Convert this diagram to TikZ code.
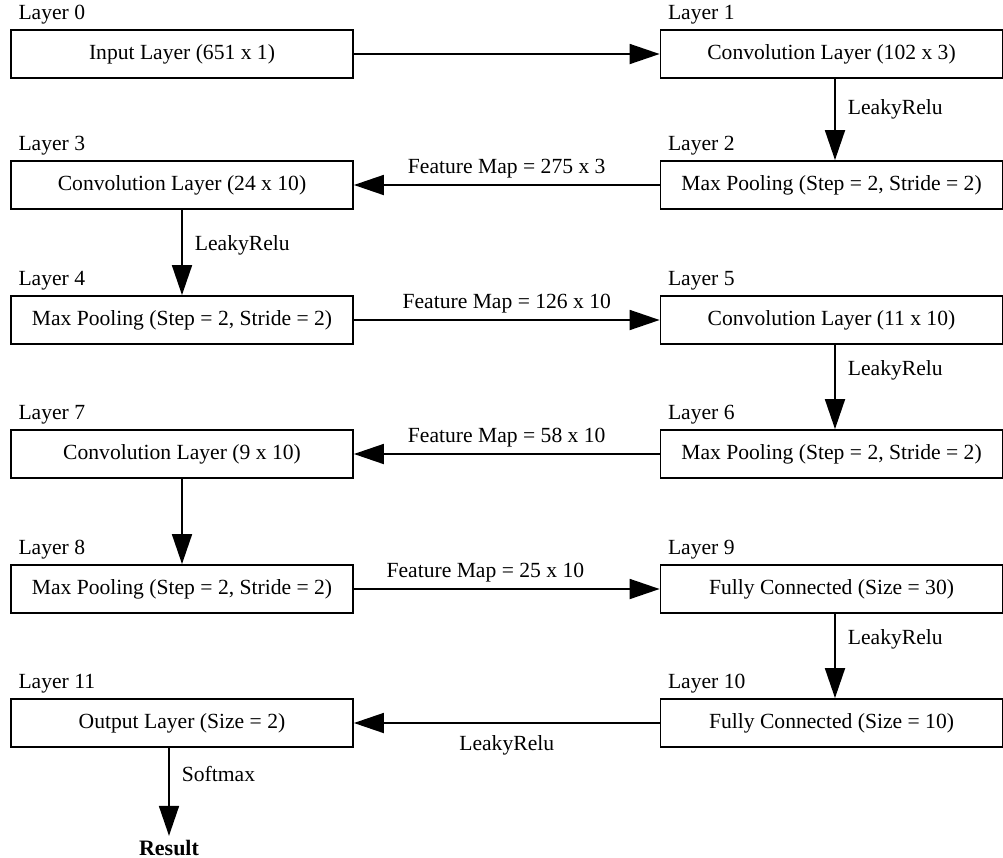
\documentclass[tikz,border=0pt]{standalone}
\usepackage{fontspec}
\setmainfont{Liberation Serif}
\usetikzlibrary{arrows.meta,positioning}
\tikzset{
  lyr/.style={rectangle,draw,line width=0.9pt,minimum width=171pt,minimum height=24pt,inner sep=0pt,font=\fontsize{10.8}{13}\selectfont},
  tag/.style={anchor=base west,inner sep=0pt,font=\fontsize{10.8}{13}\selectfont},
  flow/.style={draw,line width=0.9pt,-{Triangle[length=15pt,width=10pt]}},
  fm/.style={font=\fontsize{10.8}{13}\selectfont,inner sep=2pt},
}
\begin{document}
\begin{tikzpicture}[x=0.5pt,y=-0.5pt]
\useasboundingbox (0,0) rectangle (1003,858);
% Two columns of layers, zig-zag order.
\node[lyr] (b0) at (182,54) {Input Layer (651 x 1)}; \node[lyr] (b1) at (831.5,54) {Convolution Layer (102 x 3)};
\node[lyr] (b3) at (182,185) {Convolution Layer (24 x 10)}; \node[lyr] (b2) at (831.5,185) {Max Pooling (Step = 2, Stride = 2)};
\node[lyr] (b4) at (182,320) {Max Pooling (Step = 2, Stride = 2)}; \node[lyr] (b5) at (831.5,320) {Convolution Layer (11 x 10)};
\node[lyr] (b7) at (182,454) {Convolution Layer (9 x 10)}; \node[lyr] (b6) at (831.5,454) {Max Pooling (Step = 2, Stride = 2)};
\node[lyr] (b8) at (182,589) {Max Pooling (Step = 2, Stride = 2)}; \node[lyr] (b9) at (831.5,589) {Fully Connected (Size = 30)};
\node[lyr] (b11) at (182,723) {Output Layer (Size = 2)}; \node[lyr] (b10) at (831.5,723) {Fully Connected (Size = 10)};
\node[font=\fontsize{11}{13}\selectfont\bfseries,inner sep=2pt] (res) at (169,848) {Result};
% Layer captions sit on the top-left corner of each box.
\foreach \i in {0,...,11} \node[tag] (t\i) at ([xshift=4pt,yshift=5pt]b\i.north west) {Layer \i};
% Horizontal hand-overs between the columns.
\draw[flow] (b0.east) -- (b1.west);
\draw[flow] (b2.west) -- node[fm,above=1pt] (f2) {Feature Map = 275 x 3} (b3.east);
\draw[flow] (b4.east) -- node[fm,above=1pt] (f4) {Feature Map = 126 x 10} (b5.west);
\draw[flow] (b6.west) -- node[fm,above=1pt] (f6) {Feature Map = 58 x 10} (b7.east);
\draw[flow] (b8.east) -- node[fm,above=1pt,pos=.43] (f8) {Feature Map = 25 x 10} (b9.west);
\draw[flow] (b10.west) -- node[fm,below=4pt] (f10) {LeakyRelu} (b11.east);
% Vertical steps inside a column.
\draw[flow] ([xshift=1.75pt]b1.south) -- node[fm,right=4pt,pos=.38] (a1) {LeakyRelu} ([xshift=1.75pt]b2.north);
\draw[flow] (b3.south) -- node[fm,right=4pt,pos=.42] (a3) {LeakyRelu} (b4.north);
\draw[flow] ([xshift=1.75pt]b5.south) -- node[fm,right=4pt,pos=.3] (a5) {LeakyRelu} ([xshift=1.75pt]b6.north);
\draw[flow] (b7.south) -- (b8.north);
\draw[flow] ([xshift=1.75pt]b9.south) -- node[fm,right=4pt,pos=.3] (a9) {LeakyRelu} ([xshift=1.75pt]b10.north);
\draw[flow] (b11.south -| res.north) -- node[fm,right=4pt,pos=.3] (a11) {Softmax} (res.north);
\end{tikzpicture}
\end{document}
